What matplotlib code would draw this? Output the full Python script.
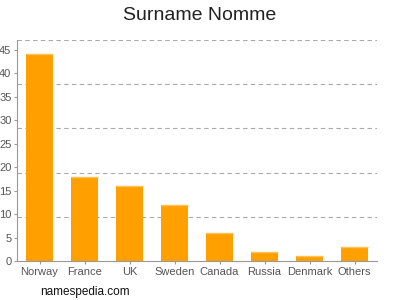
import matplotlib
matplotlib.use('Agg')
import matplotlib.pyplot as plt
import numpy as np

plt.rcParams['font.family'] = ['Liberation Sans', 'DejaVu Sans']

countries = ['Norway', 'France', 'UK', 'Sweden', 'Canada', 'Russia', 'Denmark', 'Others']
counts = [44, 18, 16, 12, 6, 2, 1, 3]
y_ticks = [0, 5, 10, 15, 20, 25, 30, 35, 40, 45]
y_max = 47.1

fig = plt.figure(figsize=(4, 3), dpi=100)
ax = fig.add_axes([0.0425, 0.13, 0.9, 0.737])

x = np.arange(len(countries))
ax.bar(x, counts, width=0.62, color='#FFA000', zorder=2)
# lighter strip on top of each bar
ax.hlines(counts, x - 0.31, x + 0.31, colors='#FFC25A', linewidth=1.0, zorder=3)

ax.set_xlim(-0.5, len(countries) - 0.5)
ax.set_ylim(0, y_max)
ax.set_xticks(x)
ax.set_xticklabels(countries)
ax.set_yticks(y_ticks)

# dashed grid at fifths of the axis height
for g in np.linspace(0, y_max, 6)[1:]:
    ax.axhline(g, color='#AAAAAA', linestyle=(0, (4, 3)), linewidth=0.8, zorder=1)

for s in ['top', 'right']:
    ax.spines[s].set_visible(False)
for s in ['left', 'bottom']:
    ax.spines[s].set_color('#999999')
    ax.spines[s].set_linewidth(0.8)

ax.tick_params(axis='both', colors='#999999', labelcolor='#555555', labelsize=8,
               length=2.5, width=0.8, pad=1.5)

fig.text(0.5, 0.95, 'Surname Nomme', ha='center', va='center', fontsize=14, color='#222222')
fig.text(0.1, 0.027, 'namespedia.com', ha='left', va='center', fontsize=8.5, color='#111111')

fig.savefig('out.png', dpi=100)
plt.close(fig)
